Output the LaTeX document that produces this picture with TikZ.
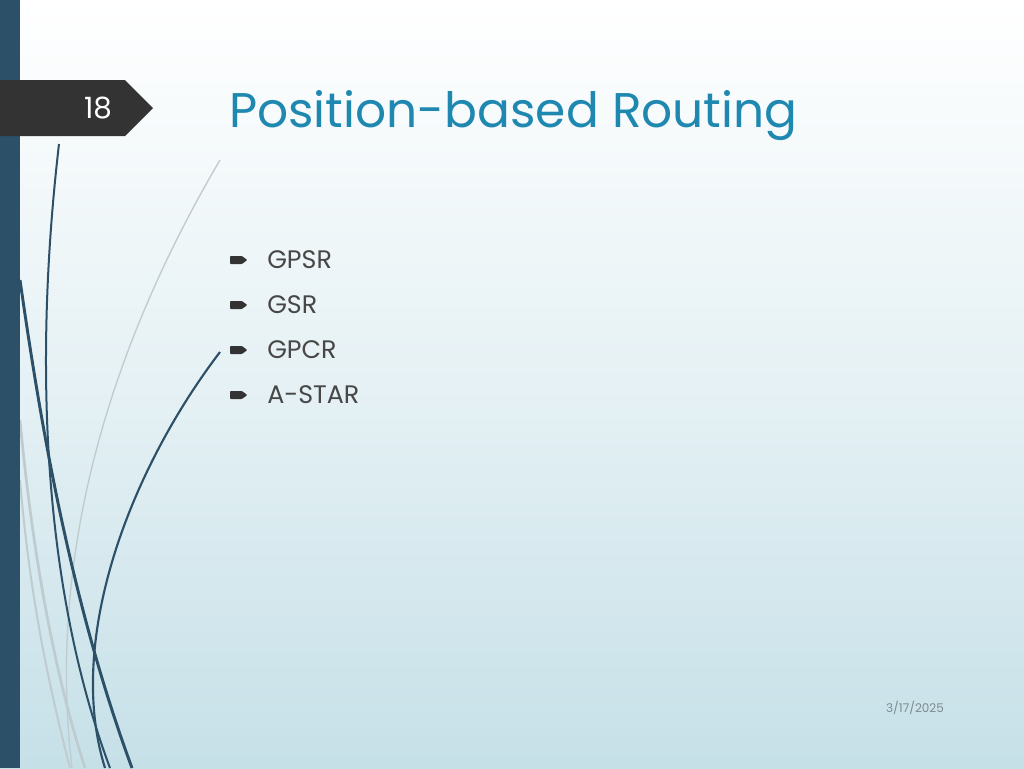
\documentclass[tikz,border=0pt]{standalone}
\usepackage{fontspec}
\setmainfont{Poppins}
\usetikzlibrary{positioning}

\definecolor{sidebar}{RGB}{44,80,104}
\definecolor{tagdark}{RGB}{51,51,51}
\definecolor{titleblue}{RGB}{31,136,176}
\definecolor{slidebottom}{RGB}{198,224,232}
\definecolor{stemgray}{RGB}{190,204,208}
\definecolor{dategray}{RGB}{125,140,146}

\tikzset{
  item/.style = {anchor = west, inner sep = 0pt, text = tagdark!90, font = \fontsize{19}{22}\selectfont},
  bullet/.style = {fill = tagdark, rounded corners = 0.6pt},
  darkstem/.style = {draw = sidebar},
  lightstem/.style = {draw = stemgray}
}

\begin{document}
\begin{tikzpicture}[x = 0.75pt, y = -0.75pt]
    \useasboundingbox (0, 0) rectangle (1024, 768);
    \shade[top color = white, bottom color = slidebottom, middle color = white!55!slidebottom] (0, 0) rectangle (1024, 768);
    % stems
    \draw[lightstem, line width = 1pt] (220, 160) .. controls (120, 330) and (45, 540) .. (72, 768);
    \draw[lightstem, line width = 2pt] (20, 420) .. controls (35, 580) and (60, 690) .. (85, 768);
    \draw[lightstem, line width = 1.5pt] (20, 480) .. controls (30, 600) and (50, 690) .. (70, 768);
    \draw[darkstem, line width = 1.5pt] (59, 144) .. controls (35, 350) and (40, 580) .. (110, 768);
    \draw[darkstem, line width = 2.2pt] (20, 280) .. controls (40, 420) and (70, 600) .. (132, 768);
    \draw[darkstem, line width = 1.6pt] (220, 352) .. controls (130, 470) and (65, 640) .. (105, 768);
    \fill[sidebar] (0, 0) rectangle (20, 768);
    % number tag
    \fill[tagdark] (0, 80) -- (125, 80) -- (153, 108) -- (125, 136) -- (0, 136) -- cycle;
    \node (Slide Number) at (98, 108) {\fontsize{22}{24}\selectfont\color{white} 18};
    \node[anchor = base west, inner sep = 0pt, text = titleblue] (Title) at (229, 127) {\fontsize{36.5}{42}\selectfont Position-based Routing};
    % list
    \node[item] (GPSR) at (267, 260) {GPSR};
    \node[item] (GSR) at (267, 305) {GSR};
    \node[item] (GPCR) at (267, 350) {GPCR};
    \node[item] (A-STAR) at (267, 395) {A-STAR};
    \fill[bullet] ([xshift = -27.75pt, yshift = 3pt] GPSR.west) -- ++(9pt, 0) -- ++(4pt, -3pt) -- ++(-4pt, -3pt) -- ++(-9pt, 0) -- cycle;
    \fill[bullet] ([xshift = -27.75pt, yshift = 3pt] GSR.west) -- ++(9pt, 0) -- ++(4pt, -3pt) -- ++(-4pt, -3pt) -- ++(-9pt, 0) -- cycle;
    \fill[bullet] ([xshift = -27.75pt, yshift = 3pt] GPCR.west) -- ++(9pt, 0) -- ++(4pt, -3pt) -- ++(-4pt, -3pt) -- ++(-9pt, 0) -- cycle;
    \fill[bullet] ([xshift = -27.75pt, yshift = 3pt] A-STAR.west) -- ++(9pt, 0) -- ++(4pt, -3pt) -- ++(-4pt, -3pt) -- ++(-9pt, 0) -- cycle;
    \node[text = dategray] (Date) at (915, 708) {\fontsize{9}{11}\selectfont 3/17/2025};
  \end{tikzpicture}
\end{document}
